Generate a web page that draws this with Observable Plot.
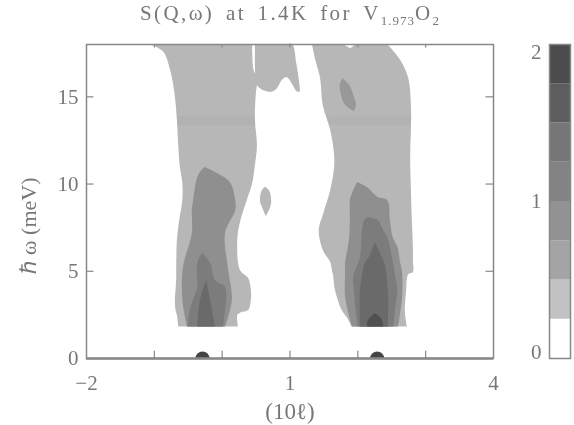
<!DOCTYPE html>
<html>
<head>
<meta charset="utf-8">
<script src="https://cdn.jsdelivr.net/npm/d3@7"></script>
<script src="https://cdn.jsdelivr.net/npm/@observablehq/plot@0.6"></script>
<style>
html,body{margin:0;padding:0;background:#fff}
#wrap{position:relative;width:574px;height:425px;overflow:hidden;filter:blur(.5px)}
#wrap svg{position:absolute;top:0;background:transparent}
#title{position:absolute;left:0;width:580px;top:1px;text-align:center;font:21px "Liberation Serif",serif;color:#777;letter-spacing:2.4px;word-spacing:4px;white-space:nowrap}
#title sub{font-size:13px;letter-spacing:1px;line-height:0}
</style>
</head>
<body>
<div id="wrap"><div id="title">S(Q,ω) at 1.4K for V<sub>1.973</sub>O<sub>2</sub></div></div>
<script>
// Contour bands: [energy, left l, right l]
const leftOuter = [[18,-1.06,.45],[17.55,-.86,.45],[16.5,-.76,.47],[16,-.73,.52],[15,-.69,.5],[13.65,-.66,.49],[12.2,-.64,.52],[11.07,-.62,.49],[10.03,-.58,.45],[9.06,-.58,.37],[7.8,-.63,.27],[6.77,-.66,.23],[5.05,-.67,.27],[4.59,-.67,.39],[3.9,-.68,.43],[3.33,-.69,.43],[2.75,-.68,.39],[2.6,-.67,.27],[2.47,-.66,.23],[1.8,-.64,.24]];
const rightOuter = [[18,1.33,2.44],[17.1,1.38,2.63],[16.06,1.45,2.75],[14.5,1.49,2.79],[13.07,1.6,2.79],[11.93,1.65,2.78],[11.07,1.66,2.78],[9.63,1.6,2.79],[8.2,1.49,2.8],[7.34,1.43,2.81],[6.19,1.49,2.82],[5.5,1.6,2.82],[4.93,1.63,2.82],[4.8,1.64,2.75],[3.9,1.67,2.72],[2.75,1.77,2.7],[2.3,1.85,2.71],[1.8,1.92,2.73]];
const smallEllipse = [[9.82,.64,.64],[9.6,.59,.7],[9,.565,.73],[8.6,.6,.71],[8.14,.65,.65]];
const rightL2 = [[10.09,2,2],[9.8,1.96,2.14],[9.23,1.9,2.3],[9.06,1.89,2.44],[7.91,1.89,2.48],[6.94,1.88,2.52],[6.36,1.86,2.59],[5.5,1.82,2.63],[4.87,1.82,2.66],[3.5,1.82,2.66],[1.8,1.92,2.6]];
const rightL3 = [[8.08,2.16,2.16],[7.91,2.1,2.3],[7.34,2.07,2.38],[6.94,2.06,2.44],[5.79,2.04,2.51],[4.64,1.94,2.56],[3.9,1.95,2.59],[2.92,1.97,2.56],[1.8,2.01,2.53]];
const rightL4 = [[6.65,2.26,2.26],[5.79,2.17,2.36],[5.45,2.11,2.4],[3.9,2.04,2.45],[1.8,2.04,2.45]];
const rightL5 = [[2.58,2.26,2.26],[2.2,2.16,2.36],[1.8,2.14,2.38]];
const leftL2 = [[10.95,-.25,-.25],[10.61,-.33,-.07],[10.09,-.38,.12],[9.06,-.42,.2],[8.49,-.44,.2],[7.17,-.44,.05],[5.22,-.57,.09],[3.33,-.58,.15],[1.8,-.51,.05]];
const leftL3 = [[6.02,-.29,-.29],[5.45,-.36,-.17],[4.47,-.36,-.1],[4.07,-.36,.05],[2.75,-.47,.05],[1.8,-.5,.02]];
const leftL4 = [[4.47,-.23,-.23],[3.33,-.32,-.17],[1.8,-.36,-.1]];
const upperEllipse = [[16.05,1.78,1.78],[15.65,1.74,1.88],[15.08,1.76,1.94],[14.5,1.82,1.98],[14.15,1.95,1.95]];
const topHole = [[18,1.79,1.97],[17.85,1.85,1.93],[17.75,1.89,1.89]];
// Middle patch: [l, lower energy, upper energy]
const middlePatch = [[.49,16,18],[.55,15.5,18],[.71,15.25,18],[.8,15.4,18],[.89,15.95,18],[.96,16.1,18],[1.04,15.7,18],[1.1,15.3,16.9],[1.14,15.25,15.9],[1.155,15.35,15.35]];
const bandRanges = [[-.66,.5],[1.58,2.79]];
const peaks = [-.29,2.285];
const minorXTicks = [-1,0,1,2,3];
const xLabels = [-2,1,4];
const yTicks = [5,10,15];
const yLabels = [0,5,10,15];
// Colour bar
const barEdges = [0,.25,.5,.75,1,1.25,1.5,1.75,2];
const barColors = ["#ffffff","#c2c2c2","#a4a4a4","#929292","#838383","#767676","#5d5d5d","#4c4c4c"];
const barLabels = [0,1,2];
const c1="#b7b7b7",c2="#8f8f8f",c3="#7c7c7c",c4="#6a6a6a",c5="#505050",ink="#777",axisInk="#888";
const band=(rows,fill)=>Plot.areaX(rows,{y:d=>d[0],x1:d=>d[1],x2:d=>d[2],fill,curve:"catmull-rom"});
const font='"Liberation Serif",serif';
const main=Plot.plot({
  width:574,height:425,marginLeft:86,marginRight:81,marginTop:44,marginBottom:67,
  style:{fontFamily:font,background:"transparent"},
  x:{domain:[-2,4],axis:null},
  y:{domain:[0,18],axis:null},
  marks:[
    band(leftOuter,c1),band(rightOuter,c1),band(smallEllipse,c1),
    Plot.areaY(middlePatch,{x:d=>d[0],y1:d=>d[1],y2:d=>d[2],fill:c1,curve:"catmull-rom"}),
    Plot.rect(bandRanges,{x1:d=>d[0],x2:d=>d[1],y1:13.35,y2:13.85,fill:"#000",fillOpacity:.025}),
    band(leftL2,c2),band(rightL2,c2),band(upperEllipse,"#989898"),
    band(leftL3,c3),band(rightL3,c3),
    band(leftL4,c4),band(rightL4,c4),
    band(rightL5,c5),
    band(topHole,"#fff"),
    Plot.dot(peaks,{x:d=>d,y:0,r:7,fill:"#444",clip:true}),
    Plot.frame({stroke:axisInk,strokeWidth:1.5}),
    Plot.ruleY([0],{stroke:axisInk,strokeWidth:2.5}),
    Plot.ruleX(minorXTicks,{x:d=>d,y1:0,y2:.42,stroke:axisInk,strokeWidth:1.2}),
    Plot.ruleX(minorXTicks,{x:d=>d,y1:17.8,y2:18,stroke:axisInk,strokeWidth:1.2}),
    Plot.ruleY(yTicks,{y:d=>d,x1:-2,x2:-1.89,stroke:axisInk,strokeWidth:1.2}),
    Plot.ruleY(yTicks,{y:d=>d,x1:3.89,x2:4,stroke:axisInk,strokeWidth:1.2}),
    Plot.text(xLabels,{x:d=>d,y:0,text:d=>String(d).replace("-","−"),dy:25,fontSize:21,fill:ink}),
    Plot.text(["(10ℓ)"],{x:1,y:0,text:d=>d,dy:53,fontSize:23,fill:ink}),
    Plot.text(yLabels,{x:-2,y:d=>d,text:d=>String(d),dx:-8,textAnchor:"end",fontSize:21,fill:ink}),
    Plot.text(["ℏ ω (meV)"],{x:-2,y:7.6,text:d=>d,dx:-58,rotate:-90,fontSize:22,fill:ink})
  ]
});
main.style.left="0px";
const bar=Plot.plot({
  width:80,height:425,marginLeft:55,marginRight:4,marginTop:44,marginBottom:67,
  style:{fontFamily:font,background:"transparent"},
  x:{domain:[0,1],axis:null},
  y:{domain:[0,2],axis:null},
  marks:[
    Plot.rect(barColors,{x1:0,x2:1,y1:(d,i)=>barEdges[i],y2:(d,i)=>barEdges[i+1],fill:d=>d}),
    Plot.frame({stroke:axisInk,strokeWidth:1.5}),
    Plot.text([barLabels[0]],{x:0,y:d=>d,text:d=>String(d),dx:-8,dy:-6,textAnchor:"end",fontSize:21,fill:ink}),
    Plot.text([barLabels[1]],{x:0,y:d=>d,text:d=>String(d),dx:-8,dy:0,textAnchor:"end",fontSize:21,fill:ink}),
    Plot.text([barLabels[2]],{x:0,y:d=>d,text:d=>String(d),dx:-8,dy:8,textAnchor:"end",fontSize:21,fill:ink})
  ]
});
bar.style.left="494px";
const wrap=document.getElementById("wrap");
wrap.appendChild(main);wrap.appendChild(bar);
</script>
</body>
</html>
